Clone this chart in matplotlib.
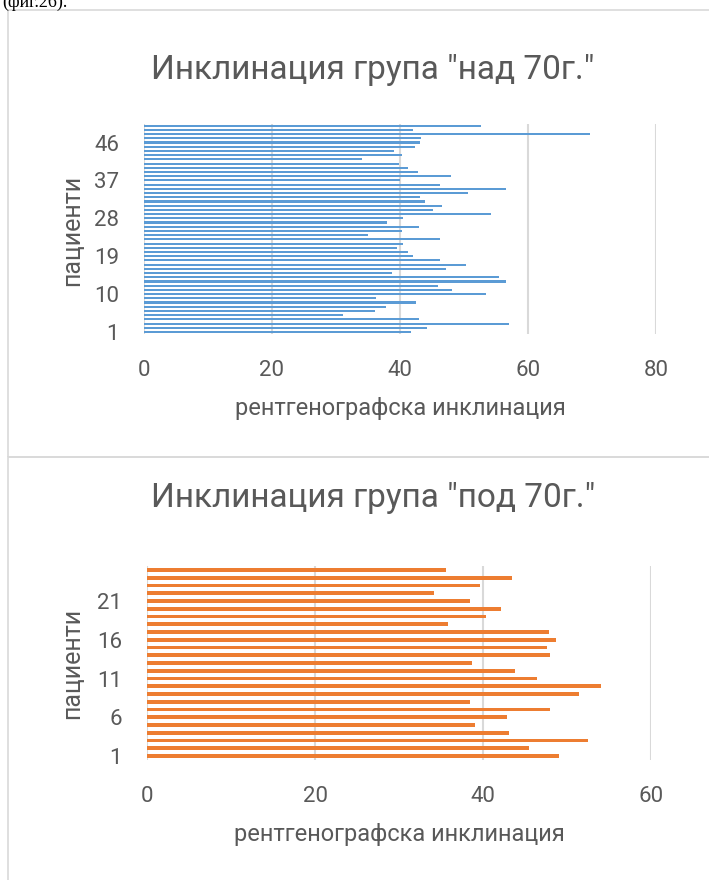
import matplotlib
matplotlib.use("Agg")
import matplotlib.pyplot as plt
from matplotlib.patches import Rectangle

plt.rcParams['font.family'] = ['Roboto', 'DejaVu Sans']

# Group "над 70г." – inclination per patient (patient 1 .. 50)
over70_values = [
    41.7, 44.2, 57.1, 43.0, 31.1, 36.1, 37.8, 42.5, 36.3, 53.5,
    48.1, 46.0, 56.6, 55.5, 38.8, 47.2, 50.3, 46.2, 42.1, 41.2,
    39.5, 40.4, 46.3, 35.0, 40.3, 42.9, 38.0, 40.4, 54.2, 45.2,
    46.6, 43.9, 43.2, 50.6, 56.6, 46.3, 40.0, 48.0, 42.8, 41.2,
    39.9, 34.0, 40.3, 39.0, 42.3, 43.1, 43.3, 69.7, 42.0, 52.7,
]
over70_patients = list(range(1, len(over70_values) + 1))
over70_ticks = [1, 10, 19, 28, 37, 46]
over70_xticks = [0, 20, 40, 60, 80]

# Group "под 70г." – inclination per patient (patient 1 .. 25)
under70_values = [
    49.0, 45.5, 52.5, 43.1, 39.0, 42.9, 48.0, 38.4, 51.4, 54.0,
    46.4, 43.8, 38.7, 48.0, 47.6, 48.7, 47.8, 35.8, 40.3, 42.2,
    38.5, 34.15, 39.7, 43.5, 35.65,
]
under70_patients = list(range(1, len(under70_values) + 1))
under70_ticks = [1, 6, 11, 16, 21]
under70_xticks = [0, 20, 40, 60]

titles = ['Инклинация група "над 70г."', 'Инклинация група "под 70г."']
xlabel = 'рентгенографска инклинация'
ylabel = 'пациенти'

W, H = 709, 880
TEXT = '#595959'
GRID = '#D9D9D9'
BLUE = '#5B9BD5'
ORANGE = '#ED7D31'

fig = plt.figure(figsize=(W / 100, H / 100), dpi=100)


def px_axes(x0, y0, x1, y1):
    return fig.add_axes([x0 / W, 1 - y1 / H, (x1 - x0) / W, (y1 - y0) / H])


def fx(x):
    return x / W


def fy(y):
    return 1 - y / H


# caption of the preceding paragraph, running off the top of the page
fig.text(fx(2), fy(7), '(фиг.26).', family='Liberation Serif', fontsize=13,
         color='black', ha='left', va='baseline')

# chart frames
fig.patches.append(Rectangle((fx(8), fy(457)), fx(720) - fx(8), fy(10) - fy(457),
                             transform=fig.transFigure, fill=False,
                             edgecolor=GRID, lw=1.2))
fig.patches.append(Rectangle((fx(8), fy(890)), fx(720) - fx(8), fy(457) - fy(890),
                             transform=fig.transFigure, fill=False,
                             edgecolor=GRID, lw=1.2))


def style(ax, n, yticks, xticks, xlim):
    ax.set_xlim(*xlim)
    ax.set_ylim(0.5, n + 0.5)
    ax.set_yticks(yticks)
    ax.set_xticks(xticks)
    ax.tick_params(axis='both', length=0, labelsize=16, colors=TEXT)
    ax.tick_params(axis='x', pad=19)
    ax.tick_params(axis='y', pad=18)
    for s in ax.spines.values():
        s.set_visible(False)
    ax.grid(axis='x', color=GRID, lw=1.5)
    ax.set_axisbelow(True)
    ax.set_xlabel(xlabel, fontsize=17, color=TEXT, labelpad=11)


# top chart
ax1 = px_axes(144, 123.6, 656, 334.1)
ax1.barh(over70_patients, over70_values, height=0.5, color=BLUE)
style(ax1, len(over70_values), over70_ticks, over70_xticks, (0, 80))
fig.text(fx(373), fy(70), titles[0], fontsize=24, color=TEXT, ha='center', va='center')
fig.text(fx(72), fy(230), ylabel, fontsize=18, color=TEXT, ha='center', va='center',
         rotation=90)

# bottom chart
ax2 = px_axes(147, 566.1, 651, 759.9)
ax2.barh(under70_patients, under70_values, height=0.5, color=ORANGE)
style(ax2, len(under70_values), under70_ticks, under70_xticks, (0, 60))
fig.text(fx(373), fy(498), titles[1], fontsize=24, color=TEXT, ha='center', va='center')
fig.text(fx(72), fy(663), ylabel, fontsize=18, color=TEXT, ha='center', va='center',
         rotation=90)

fig.savefig('out.png', dpi=100)
